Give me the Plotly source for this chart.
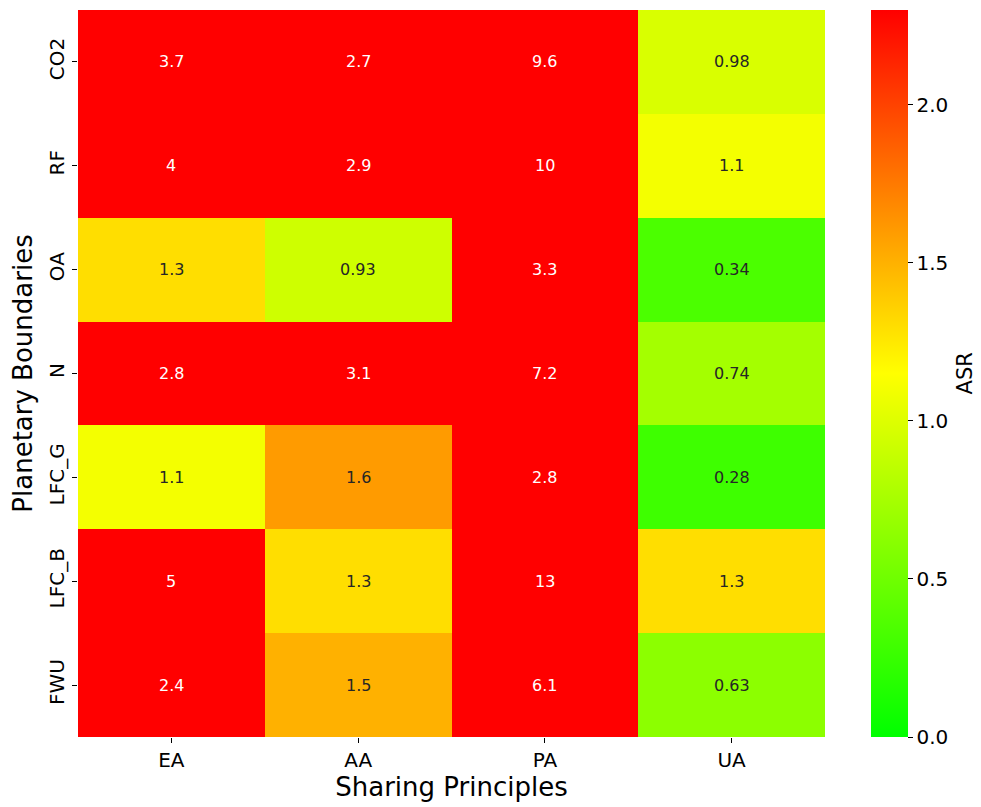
import plotly.graph_objects as go

principles = ["EA", "AA", "PA", "UA"]
boundaries = ["CO2", "RF", "OA", "N", "LFC_G", "LFC_B", "FWU"]
ea = [3.7, 4, 1.3, 2.8, 1.1, 5, 2.4]
aa = [2.7, 2.9, 0.93, 3.1, 1.6, 1.3, 1.5]
pa = [9.6, 10, 3.3, 7.2, 2.8, 13, 6.1]
ua = [0.98, 1.1, 0.34, 0.74, 0.28, 1.3, 0.63]

zmin, zmax = 0.0, 2.3
z = [[ea[i], aa[i], pa[i], ua[i]] for i in range(len(boundaries))]

def cmap(v):
    t = min(max((v - zmin) / (zmax - zmin), 0), 1)
    if t <= 0.5:
        return (t / 0.5, 1.0, 0.0)
    return (1.0, 1 - (t - 0.5) / 0.5, 0.0)

def lum(rgb):
    def f(c):
        return c / 12.92 if c <= 0.03928 else ((c + 0.055) / 1.055) ** 2.4
    r, g, b = rgb
    return 0.2126 * f(r) + 0.7152 * f(g) + 0.0722 * f(b)

fig = go.Figure(go.Heatmap(
    z=z, x=principles, y=boundaries,
    zmin=zmin, zmax=zmax,
    colorscale=[[0, "#00ff00"], [0.5, "#ffff00"], [1, "#ff0000"]],
    xgap=0, ygap=0, hoverinfo="skip",
    colorbar=dict(
        x=1.0616, xanchor="left", xpad=0, y=0.5, yanchor="middle", ypad=0,
        len=1, lenmode="fraction", thickness=37, outlinewidth=0,
        ticks="outside", ticklen=5, tickwidth=1, tickcolor="black",
        tickvals=[0, 0.5, 1.0, 1.5, 2.0], ticktext=["0.0", "0.5", "1.0", "1.5", "2.0"],
        tickfont=dict(size=20, color="black"),
    ),
))

annotations = []
for i, b in enumerate(boundaries):
    for j, p in enumerate(principles):
        v = z[i][j]
        col = "#262626" if lum(cmap(v)) > 0.408 else "white"
        annotations.append(dict(x=p, y=b, text="{:.2g}".format(v), showarrow=False,
                                font=dict(size=16, color=col, family="DejaVu Sans")))
annotations.append(dict(x=1.1874, y=0.5, xref="paper", yref="paper", text="ASR",
                        textangle=-90, showarrow=False, xanchor="center", yanchor="middle",
                        font=dict(size=21, color="black", family="DejaVu Sans")))

fig.update_layout(
    width=981, height=807,
    margin=dict(l=78, r=156, t=10, b=70),
    plot_bgcolor="white", paper_bgcolor="white",
    font=dict(family="DejaVu Sans", color="black"),
    annotations=annotations,
    xaxis=dict(title=dict(text="Sharing Principles", font=dict(size=26), standoff=4),
               tickfont=dict(size=20), ticks="outside", ticklen=5, tickcolor="black",
               showgrid=False, zeroline=False, showline=False),
    yaxis=dict(title=dict(text="Planetary Boundaries", font=dict(size=26), standoff=4),
               tickfont=dict(size=20), ticks="outside", ticklen=5, tickcolor="black",
               tickangle=-90, autorange="reversed",
               showgrid=False, zeroline=False, showline=False),
)

fig.write_html("out.html", config={"displayModeBar": False},
               post_script="document.body.style.margin='0';")
